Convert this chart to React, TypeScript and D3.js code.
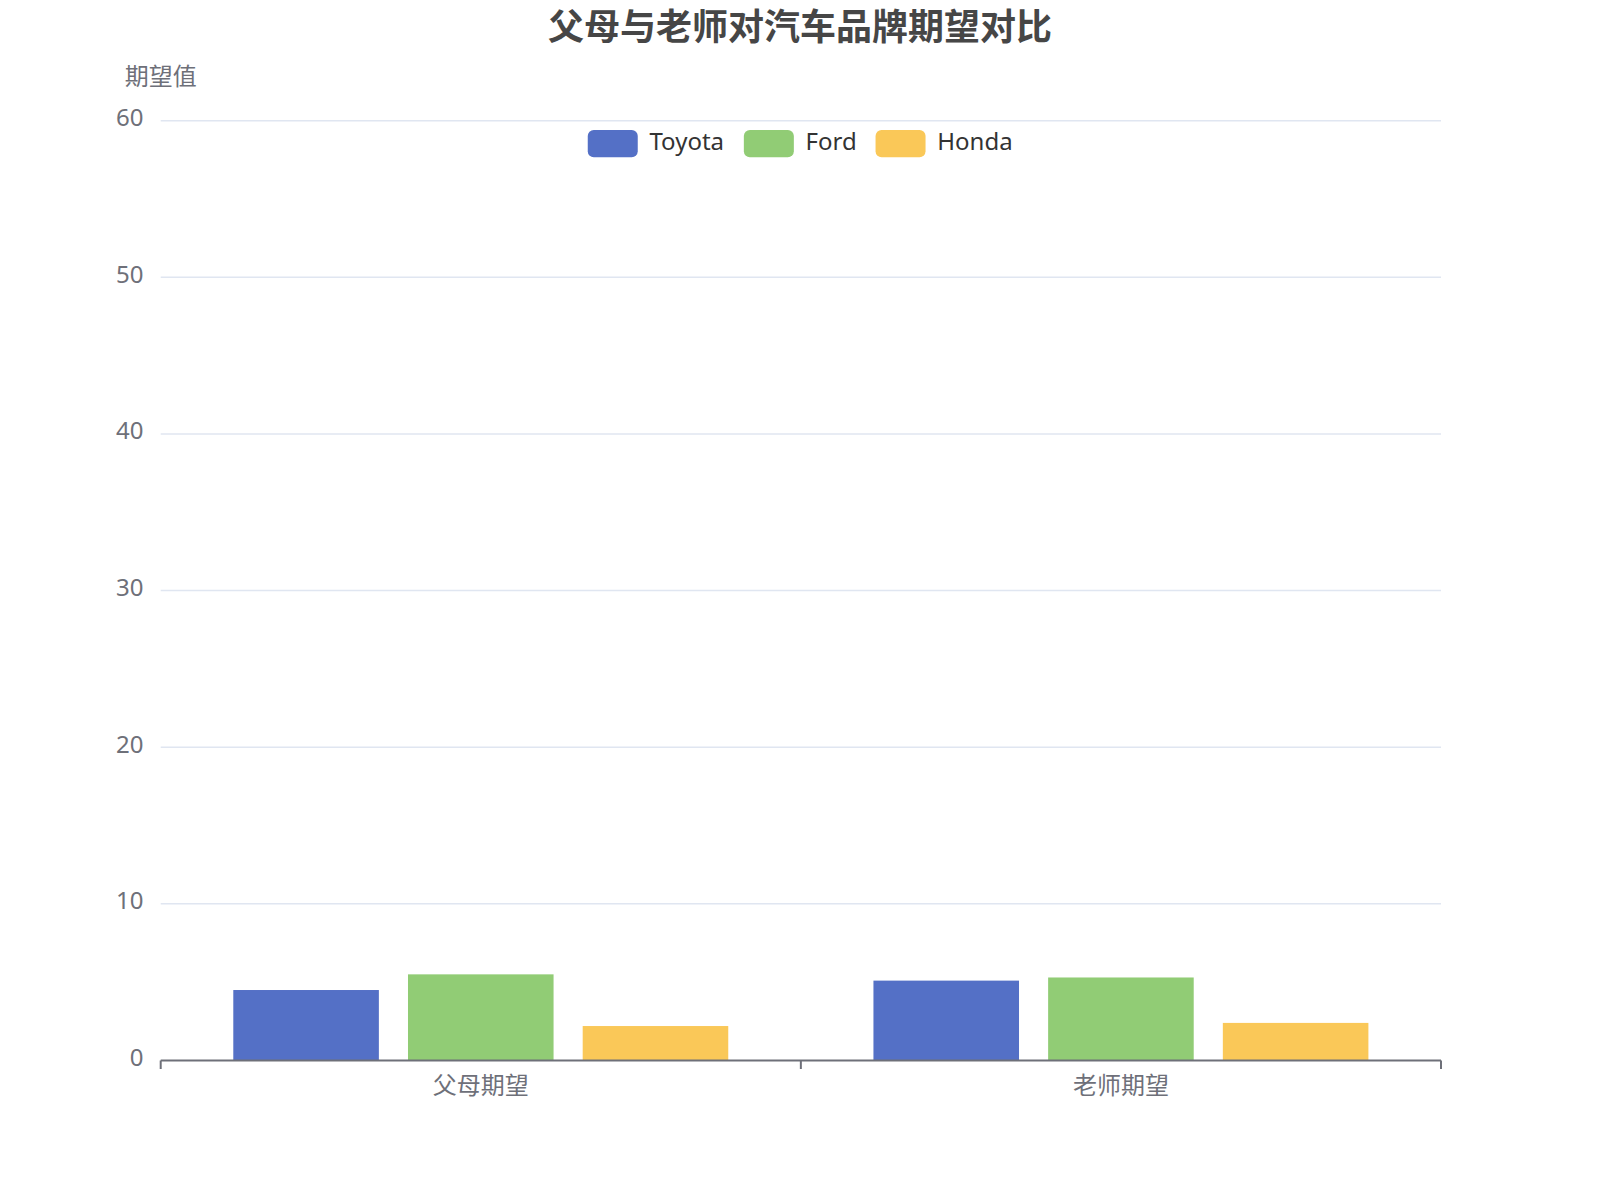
import React from 'react';
import * as d3 from 'd3';

const categories = ['父母期望', '老师期望'];
const brands = ['Toyota', 'Ford', 'Honda'];
const toyota = [4.5, 5.1];
const ford = [5.5, 5.3];
const honda = [2.2, 2.4];
const yTicks = [0, 10, 20, 30, 40, 50, 60];

const colors = ['#5470C6', '#91CC75', '#FAC858'];
const FONT = '"Noto Sans", "Noto Sans CJK SC", sans-serif';
const CJK = '"Noto Sans CJK SC", "Noto Sans", sans-serif';

const App: React.FC = () => {
  const width = 1600;
  const height = 1200;
  const margin = { top: 120.7, right: 159, bottom: 140, left: 160.7 };
  const plotRight = width - margin.right;
  const plotBottom = 1060.5;

  const series = [toyota, ford, honda];

  // scales
  const y = d3.scaleLinear().domain([0, 60]).range([plotBottom, margin.top]);
  const x0 = d3.scaleBand<string>().domain(categories).range([margin.left, plotRight]).padding(0);
  const bw = x0.bandwidth();
  const inset = bw * 0.1134;
  const x1 = d3
    .scaleBand<string>()
    .domain(brands)
    .range([inset, bw - inset])
    .paddingInner(0.1667)
    .paddingOuter(0);

  // legend layout
  const legendFont = 24;
  const swatchW = 50;
  const textW: Record<string, number> = { Toyota: 74.4, Ford: 50, Honda: 75 };
  const legendTotal =
    brands.reduce((a, b) => a + swatchW + 11.7 + textW[b], 0) + 20 * (brands.length - 1);
  let lx = 800 - legendTotal / 2;
  const legendItems = brands.map((b, i) => {
    const item = { name: b, x: lx, color: colors[i] };
    lx += swatchW + 11.7 + textW[b] + 20;
    return item;
  });

  return (
    <svg
      width={width}
      height={height}
      style={{ position: 'absolute', left: 0, top: 0, background: '#fff' }}
    >
      {/* title */}
      <text
        x={800}
        y={39.5}
        textAnchor="middle"
        fontFamily={CJK}
        fontWeight={700}
        fontSize={36}
        fill="#464646"
      >
        父母与老师对汽车品牌期望对比
      </text>

      {/* y axis name */}
      <text x={margin.left} y={85} textAnchor="middle" fontFamily={CJK} fontSize={24} fill="#6E7079">
        期望值
      </text>

      {/* grid + y labels */}
      {yTicks.map((t) => (
        <g key={t}>
          {t !== 0 && (
            <line
              x1={margin.left}
              x2={plotRight}
              y1={y(t)}
              y2={y(t)}
              stroke="#E0E6F1"
              strokeWidth={1.5}
            />
          )}
          <text
            x={143.5}
            y={y(t) + 5.5}
            textAnchor="end"
            fontFamily={FONT}
            fontSize={24}
            fill="#6E7079"
          >
            {t}
          </text>
        </g>
      ))}

      {/* bars */}
      {categories.map((c, ci) => (
        <g key={c} transform={`translate(${x0(c)},0)`}>
          {brands.map((b, bi) => (
            <rect
              key={b}
              x={x1(b)}
              width={x1.bandwidth()}
              y={y(series[bi][ci])}
              height={plotBottom - y(series[bi][ci])}
              fill={colors[bi]}
            />
          ))}
        </g>
      ))}

      {/* x axis */}
      <line x1={margin.left} x2={plotRight} y1={plotBottom} y2={plotBottom} stroke="#6E7079" strokeWidth={2} />
      {[margin.left, margin.left + bw, plotRight].map((tx, i) => (
        <line key={i} x1={tx} x2={tx} y1={plotBottom} y2={plotBottom + 8.5} stroke="#6E7079" strokeWidth={2} />
      ))}
      {categories.map((c) => (
        <text
          key={c}
          x={(x0(c) as number) + bw / 2}
          y={1094}
          textAnchor="middle"
          fontFamily={CJK}
          fontSize={24}
          fill="#6E7079"
        >
          {c}
        </text>
      ))}

      {/* legend */}
      {legendItems.map((it) => (
        <g key={it.name}>
          <rect x={it.x} y={130} width={swatchW} height={27.3} rx={6} fill={it.color} />
          <text
            x={it.x + swatchW + 11.7}
            y={150}
            fontFamily={FONT}
            fontSize={legendFont}
            fill="#333"
          >
            {it.name}
          </text>
        </g>
      ))}
    </svg>
  );
};

export default App;
